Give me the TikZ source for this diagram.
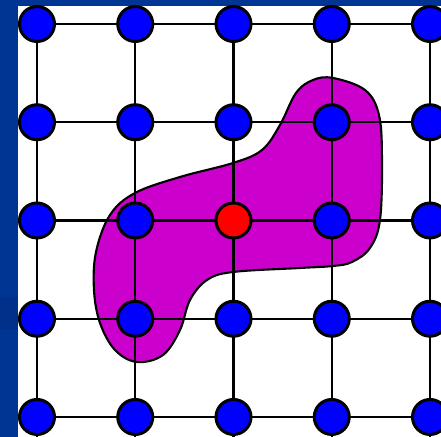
\documentclass[tikz,border=0pt]{standalone}
\usepackage{tikz}
\usetikzlibrary{backgrounds}
\definecolor{slide}{HTML}{003594}
\definecolor{slidedk}{HTML}{00318A}
\definecolor{dotblue}{HTML}{0000FF}
\definecolor{dotred}{HTML}{FF0000}
\definecolor{blob}{HTML}{CC00CC}
\begin{document}
\begin{tikzpicture}[x=0.01cm,y=-0.01cm,
              dot/.style={circle,draw=black,line width=0.85pt,minimum size=0.35cm,inner sep=0},
              gridline/.style={black,line width=0.6pt}]
              \useasboundingbox (0,0) rectangle (441,437);
              % lattice sites
              \foreach \i in {0,...,4}{
                \foreach \j in {0,...,4}{
                  \ifnum\i\j=22 \def\col{dotred}\else\def\col{dotblue}\fi
                  \node[dot,fill=\col] (n\i\j) at ({37+98.25*\i},{24+98.25*\j}) {};
                }
                \coordinate (w\i) at (18,{24+98.25*\i});
                \coordinate (e\i) at (441,{24+98.25*\i});
                \coordinate (t\i) at ({37+98.25*\i},6);
                \coordinate (b\i) at ({37+98.25*\i},437);
              }
              \begin{scope}[on background layer]
                \fill[slide] (0,0) rectangle (441,437);
                \fill[slidedk] (0,297) rectangle (18,330);
                \fill[white] (18,6) rectangle (441,437);
                % cluster
                \draw[fill=blob,line width=0.6pt] plot[smooth cycle,tension=0.6] coordinates {
                  (333,78) (365,90) (379,115) (382,160) (380,220) (370,248) (352,262)
                  (333,266) (300,268) (233,272) (207,280) (190,300) (180,330) (163,355)
                  (137,362) (115,350) (100,323) (94,290) (96,252) (110,215) (135,193)
                  (180,177) (233,163) (262,150) (280,125) (296,93) (313,80)};
                \foreach \k in {0,...,4}
                  \draw[gridline] (w\k)--(e\k) (t\k)--(b\k);
              \end{scope}
            \end{tikzpicture}
\end{document}
